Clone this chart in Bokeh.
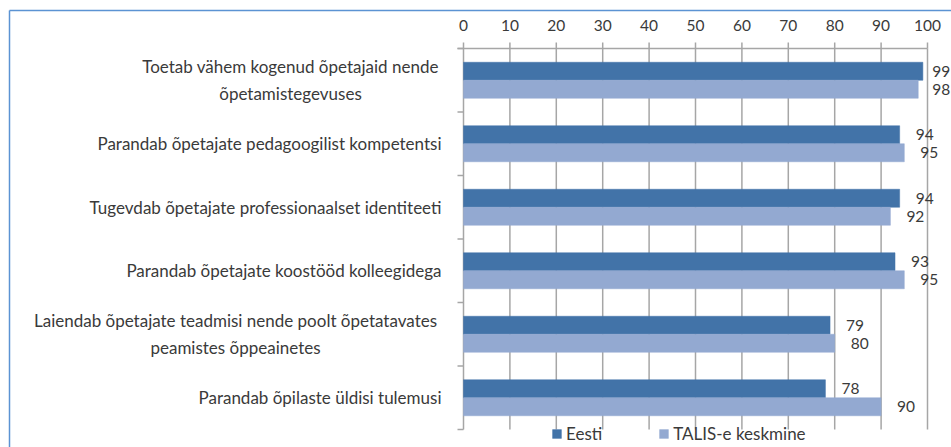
import numpy as np
from bokeh.plotting import figure
from bokeh.models import ColumnDataSource, Range1d, Legend, LegendItem
from bokeh.core.properties import value
from bokeh.embed import file_html
from bokeh.resources import INLINE

categories = [
    "Toetab vähem kogenud õpetajaid nende\nõpetamistegevuses",
    "Parandab õpetajate pedagoogilist kompetentsi",
    "Tugevdab õpetajate professionaalset identiteeti",
    "Parandab õpetajate koostööd kolleegidega",
    "Laiendab õpetajate teadmisi nende poolt õpetatavates\npeamistes õppeainetes",
    "Parandab õpilaste üldisi tulemusi",
]
eesti = [99, 94, 94, 93, 79, 78]
talis = [98, 95, 92, 95, 80, 90]
x_ticks = [0, 10, 20, 30, 40, 50, 60, 70, 80, 90, 100]
series_names = ["Eesti", "TALIS-e keskmine"]

# ---- styling / layout constants (pixels) ----
W, H = 951, 447
PX_X0, PX_X100 = 463, 927      # where 0 and 100 sit horizontally
PX_YTOP, PX_YBOT = 48, 429     # top and bottom of the category bands
FONT = "Lato"
FS_NUM = "15.5px"
FS_TXT = "17px"
TXT = "#3A3A3A"
DARK = "#4273A8"
LIGHT = "#93A9D1"
GRID = "#A6A6A6"
BORDER = "#5B93D3"

n = len(categories)
sx = (PX_X100 - PX_X0) / 100.0          # px per unit
sy = (PX_YBOT - PX_YTOP) / n            # px per band
x_range = Range1d(-PX_X0 / sx, (W - PX_X0) / sx)
y_range = Range1d(-(H - PX_YBOT) / sy, n + PX_YTOP / sy)

p = figure(width=W, height=H, output_backend="svg", toolbar_location=None,
           x_range=x_range, y_range=y_range, x_axis_type=None, y_axis_type=None,
           min_border=0)
p.outline_line_color = None
p.grid.visible = False


def dx(px):
    return px / sx


def dy(px):
    return px / sy


# border (chart area frame)
p.segment(x0=[dx(9 - PX_X0)], y0=[y_range.start], x1=[dx(9 - PX_X0)], y1=[n + dy(PX_YTOP - 10)],
          line_color=BORDER, line_width=1.5)
p.segment(x0=[dx(9 - PX_X0)], y0=[n + dy(PX_YTOP - 10)], x1=[x_range.end], y1=[n + dy(PX_YTOP - 10)],
          line_color=BORDER, line_width=1.5)

# vertical grid lines
p.segment(x0=x_ticks, y0=[0] * len(x_ticks), x1=x_ticks, y1=[n] * len(x_ticks),
          line_color=GRID, line_width=1.5)
# top axis line + ticks
p.segment(x0=[dx(-6)], y0=[n], x1=[100], y1=[n], line_color=GRID, line_width=1.5)
p.segment(x0=x_ticks, y0=[n] * len(x_ticks), x1=x_ticks, y1=[n + dy(6)] * len(x_ticks),
          line_color=GRID, line_width=1.5)
# left axis ticks at category boundaries
bounds = list(range(n + 1))
p.segment(x0=[dx(-6)] * len(bounds), y0=bounds, x1=[0] * len(bounds), y1=bounds,
          line_color=GRID, line_width=1.5)

# tick labels
p.text(x=x_ticks, y=[n] * len(x_ticks), text=[str(t) for t in x_ticks], y_offset=-23,
       text_align="center", text_baseline="middle", text_font=value(FONT),
       text_font_size=FS_NUM, text_color=TXT)

# bars
yc = np.array([n - i - 0.5 for i in range(n)])
bar_h = 18 / sy
src_e = ColumnDataSource(dict(y=yc + bar_h / 2, v=eesti, lx=np.minimum(eesti, 97.6), t=[str(v) for v in eesti]))
src_t = ColumnDataSource(dict(y=yc - bar_h / 2, v=talis, lx=np.minimum(talis, 97.6), t=[str(v) for v in talis]))
r_e = p.hbar(y="y", right="v", left=0, height=bar_h, source=src_e, fill_color=DARK, line_color=DARK, line_width=0.5)
r_t = p.hbar(y="y", right="v", left=0, height=bar_h, source=src_t, fill_color=LIGHT, line_color=LIGHT, line_width=0.5)

# value labels
for s in (src_e, src_t):
    p.text(x="lx", y="y", text="t", source=s, x_offset=16, text_align="left", text_baseline="middle",
           text_font=value(FONT), text_font_size=FS_NUM, text_color=TXT)

# category labels
single = [i for i, c in enumerate(categories) if "\n" not in c]
multi = [i for i, c in enumerate(categories) if "\n" in c]
center_offsets = {0: -173, 4: -228}
p.text(x=[0] * len(single), y=[yc[i] for i in single], text=[categories[i] for i in single],
       x_offset=-22, text_align="right", text_baseline="middle",
       text_font=value(FONT), text_font_size=FS_TXT, text_color=TXT)
src_m = ColumnDataSource(dict(x=[0] * len(multi), y=[yc[i] for i in multi],
                              t=[categories[i] for i in multi], xo=[center_offsets[i] for i in multi]))
p.text(x="x", y="y", text="t", source=src_m, x_offset="xo", text_align="center", text_baseline="middle",
       text_font=value(FONT), text_font_size=FS_TXT, text_color=TXT, text_line_height=1.3)

legend = Legend(items=[LegendItem(label=series_names[0], renderers=[r_e]),
                       LegendItem(label=series_names[1], renderers=[r_t])],
                location=(551, 3), orientation="horizontal",
                border_line_color=None, background_fill_alpha=0,
                padding=0, margin=0, spacing=56,
                glyph_width=11, glyph_height=11, label_standoff=4, label_height=14,
                label_text_font=FONT, label_text_font_size=FS_TXT, label_text_color=TXT)
p.add_layout(legend, "center")

open("out.html", "w").write(file_html(p, INLINE))
